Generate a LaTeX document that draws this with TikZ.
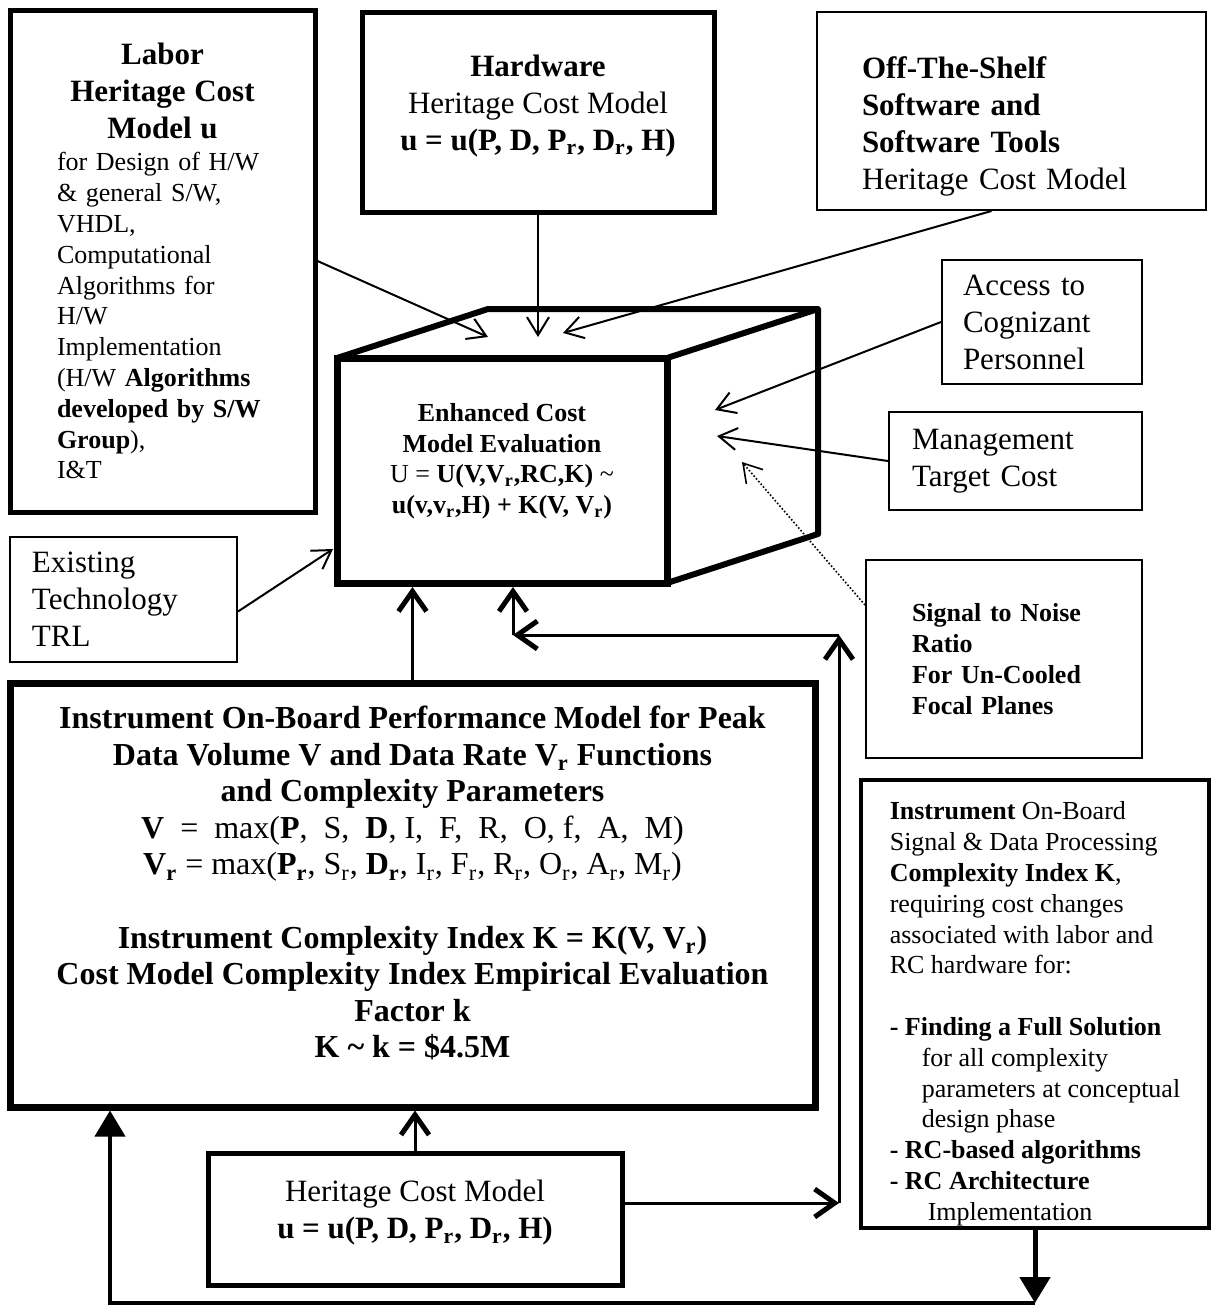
\documentclass[tikz,border=0pt]{standalone}
\usepackage{fontspec}
\setmainfont{Liberation Serif}
\usetikzlibrary{arrows.meta}

\newcommand{\bigfnt}{\fontsize{15.5}{18.5}\selectfont}
\newcommand{\smallfnt}{\fontsize{13}{15.4}\selectfont}
\newcommand{\perffnt}{\fontsize{16}{18.3}\selectfont}
\newcommand{\rsub}{\textsubscript{r}}

\tikzset{
  box/.style={draw, line width=1pt, inner sep=0pt},
  thickbox/.style={box, line width=2.5pt},
  heavybox/.style={box, line width=3.5pt},
  feed/.style={line width=1pt, -{Straight Barb[length=9pt,width=11pt]}},
  uparrow/.style={line width=1.5pt, -{Straight Barb[length=10pt,width=14pt,line width=2.5pt]}},
  loopline/.style={line width=2pt, -{Triangle[length=13pt,width=15pt]}}
}

\begin{document}
\begin{tikzpicture}[x=0.5pt,y=-0.5pt]
\useasboundingbox (0,0) rectangle (1213,1308);

\node[thickbox, minimum width=152.5pt, minimum height=251pt, text width=105.5pt, align=left, font=\smallfnt] (labor) at (162.5,261) {\makebox[\linewidth]{\bigfnt\bfseries Labor}\\[3pt]
\makebox[\linewidth]{\bigfnt\bfseries Heritage Cost}\\[3pt]
\makebox[\linewidth]{\bigfnt\bfseries Model u}\\[1pt]
for Design of H/W\\ \& general S/W,\\ VHDL,\\ Computational\\ Algorithms for\\ H/W\\ Implementation\\
(H/W \textbf{Algorithms}\\ \textbf{developed by S/W}\\ \textbf{Group}),\\ I\&T};
\node[thickbox, minimum width=176pt, minimum height=100pt, text depth=9.5pt, align=center, font=\bigfnt] (hw) at (538,112) {\textbf{Hardware}\\ Heritage Cost Model\\ \textbf{u = u(P, D, P\rsub, D\rsub, H)}};
\node[box, minimum width=194.5pt, minimum height=99pt, text width=149.5pt, text height=26pt, align=left, font=\bigfnt] (ots) at (1011.5,111) {\textbf{Off-The-Shelf}\\ \textbf{Software and}\\ \textbf{Software Tools}\\ Heritage Cost Model};
\node[box, minimum width=100pt, minimum height=62pt, text width=79pt, align=left, font=\bigfnt] (access) at (1042,322) {Access to\\ Cognizant\\ Personnel};
\node[box, minimum width=126.5pt, minimum height=49pt, text width=103.5pt, align=left, font=\bigfnt] (mgmt) at (1015.5,461) {Management\\ Target Cost};
\node[box, minimum width=138pt, minimum height=99pt, text width=92pt, align=left, font=\smallfnt\bfseries] (snr) at (1004,659) {Signal to Noise\\ Ratio\\ For Un-Cooled\\ Focal Planes};
\node[box, minimum width=113.5pt, minimum height=62.5pt, text width=91.5pt, align=left, font=\bigfnt] (exist) at (123.5,599.5) {Existing\\ Technology\\ TRL};

\node[heavybox, outer sep=0pt, minimum width=165pt, minimum height=112.5pt, text depth=12pt, align=center, font=\smallfnt] (cube) at (502,470.5) {\textbf{Enhanced Cost}\\ \textbf{Model Evaluation}\\ U = \textbf{U(V,V\rsub,RC,K)} \textasciitilde\\ \textbf{u(v,v\rsub,H) + K(V, V\rsub)}};
\draw[line width=3pt, line join=round] (cube.north west) -- ++(151,-49) -- ++(330,0) -- ++(0,225) -- (cube.south east);
\draw[line width=3pt] (cube.north east) -- ++(151,-49);

\node[heavybox, minimum width=402.5pt, minimum height=212pt, text depth=13pt, align=center, font=\perffnt] (perf) at (412.5,895) {\textbf{Instrument On-Board Performance Model for Peak}\\
\textbf{Data Volume V and Data Rate V\rsub{} Functions}\\
\textbf{and Complexity Parameters}\\
\textbf{V}\ \ =\ \ max(\textbf{P},\ \ S,\ \ \textbf{D}, I,\ \ F,\ \ R,\ \ O, f,\ \ A,\ \ M)\\
\textbf{V\rsub} = max(\textbf{P\rsub}, S\rsub, \textbf{D\rsub}, I\rsub, F\rsub, R\rsub, O\rsub, A\rsub, M\rsub)\\[18.3pt]
\textbf{Instrument Complexity Index K = K(V, V\rsub)}\\
\textbf{Cost Model Complexity Index Empirical Evaluation}\\
\textbf{Factor k}\\
\textbf{K \textasciitilde\ k = \$4.5M}};
\node[thickbox, minimum width=207pt, minimum height=66pt, text depth=9.5pt, align=center, font=\bigfnt] (herit) at (415,1219) {Heritage Cost Model\\ \textbf{u = u(P, D, P\rsub, D\rsub, H)}};
\node[box, line width=2pt, minimum width=174pt, minimum height=224pt, text depth=3pt, align=left, font=\smallfnt] (kbox) at (1035,1004) {\rule{0pt}{19pt}\textbf{Instrument} On-Board\\ Signal \& Data Processing\\ \textbf{Complexity Index K},\\ requiring cost changes\\ associated with labor and\\ RC hardware for:\\[15.4pt]
\textbf{- Finding a Full Solution}\\ \hspace*{16pt}for all complexity\\ \hspace*{16pt}parameters at conceptual\\ \hspace*{16pt}design phase\\
\textbf{- RC-based algorithms}\\ \textbf{- RC Architecture}\\ \hspace*{19pt}Implementation};

\coordinate (inL) at (488,337);
\coordinate (inH) at (538,337);
\coordinate (inO) at (563,333);
\coordinate (inA) at (715,410);
\coordinate (inM) at (717,436);
\coordinate (inS) at (742,462);
\coordinate (inE) at (333,549);
\coordinate (loopT) at (839,635);
\coordinate (loopL) at (513,635);
\coordinate (botL) at (110,1303);

\draw[feed] (labor.east) -- (inL);
\draw[feed] (hw.south) -- (inH);
\draw[feed] ([xshift=-10pt]ots.south) -- (inO);
\draw[feed] (access.west) -- (inA);
\draw[feed] (mgmt.west) -- (inM);
\draw[feed, line width=0.8pt, densely dotted] ([yshift=27pt]snr.west) -- (inS);
\draw[feed] ([yshift=-6pt]exist.east) -- (inE);

\draw[uparrow, shorten >=2pt] (perf.north) -- (perf.north |- cube.south);
\draw[uparrow] (herit.north) -- (herit.north |- perf.south);
\draw[uparrow] ([yshift=8pt]herit.east) coordinate (hr) -- (hr -| loopT) coordinate (loopR);
\draw[uparrow] (loopR) -- (loopT);
\draw[uparrow] (loopT) -- (loopL);
\draw[uparrow, shorten >=2pt] (loopL) -- (loopL |- cube.south);

\draw[loopline, line width=2.5pt] (kbox.south) -- (kbox.south |- botL) coordinate (botR);
\draw[loopline] (botR) -- (botL) -- (botL |- perf.south);
\end{tikzpicture}
\end{document}
